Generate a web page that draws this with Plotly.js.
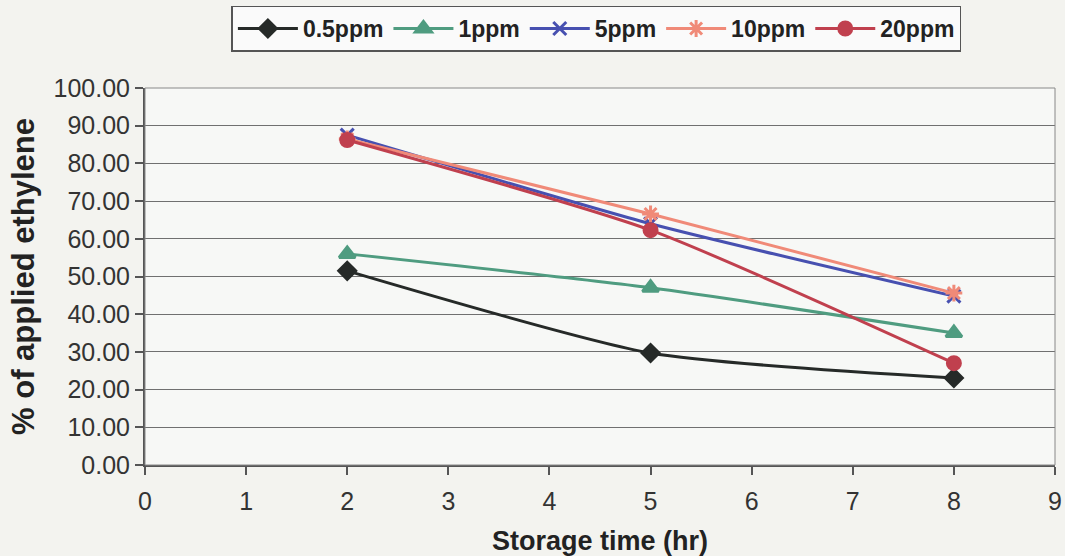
<!DOCTYPE html>
<html><head><meta charset="utf-8">
<script src="https://cdn.plot.ly/plotly-3.0.1.min.js"></script>
<style>body{margin:0;background:#f3f3ef;}#c{width:1065px;height:556px;}</style>
</head><body><div id="c"></div>
<script>
const hours = [2, 5, 8];
const seriesNames = ["0.5ppm", "1ppm", "5ppm", "10ppm", "20ppm"];
const v05 = [51.5, 29.7, 23.1];
const v1 = [56.0, 47.0, 35.0];
const v5 = [87.5, 64.0, 44.8];
const v10 = [86.5, 66.6, 45.6];
const v20 = [86.2, 62.3, 27.0];
const xTicks = [0,1,2,3,4,5,6,7,8,9];
const yTicks = [0,10,20,30,40,50,60,70,80,90,100];

const styles = [
  {color:"#262a28", symbol:"diamond", size:13},
  {color:"#4f9c80", symbol:"triangle-up", size:14},
  {color:"#4750b0", symbol:"x-thin-open", size:13},
  {color:"#f08a78", symbol:"asterisk-open", size:14},
  {color:"#c0404e", symbol:"circle", size:13}
];
const vals = [v05, v1, v5, v10, v20];
const traces = vals.map((v,i)=>({
  x: hours, y: v, name: seriesNames[i], type:"scatter", mode:"lines+markers",
  line:{color:styles[i].color, width:3, shape:"spline", smoothing:0.6},
  marker:{color:styles[i].color, symbol:styles[i].symbol, size:styles[i].size,
          line:{color:styles[i].color, width:3}}
}));
const layout = {
  width:1065, height:556,
  paper_bgcolor:"#f3f3ef", plot_bgcolor:"#f7f8f6",
  margin:{l:145, r:10, t:88, b:91, autoexpand:false},
  font:{family:"Liberation Sans, Arial, sans-serif", color:"#333"},
  showlegend:true,
  legend:{orientation:"h", x:0.56, xref:"container", xanchor:"center",
          y:0.99, yref:"container", yanchor:"top",
          bordercolor:"#555", borderwidth:1.5, bgcolor:"#fafafa",
          font:{size:23, color:"#222", family:"Liberation Sans, Arial, sans-serif", weight:"bold"},
          itemwidth:60, tracegroupgap:0},
  xaxis:{range:[0,9], tickvals:xTicks, ticktext:xTicks.map(String), ticks:"outside", ticklen:8,
         tickcolor:"#555", tickwidth:1.5, showgrid:false, zeroline:false, showline:true,
         linecolor:"#555", linewidth:2, ticklabelstandoff:5,
         tickfont:{size:25, color:"#333"},
         title:{text:"<b>Storage time (hr)</b>", font:{size:27, color:"#222"}, standoff:18}},
  yaxis:{range:[0,100], tickvals:yTicks, ticktext:yTicks.map(t=>t.toFixed(2)), ticks:"outside", ticklen:8,
         tickcolor:"#555", tickwidth:1.5, showgrid:true, gridcolor:"#707070", gridwidth:1.2,
         zeroline:false, showline:true, linecolor:"#555", linewidth:2, mirror:false,
         tickfont:{size:25, color:"#333"},
         title:{text:"<b>% of applied ethylene</b>", font:{size:31, color:"#222"}, standoff:10}},
  shapes:[{type:"rect", xref:"paper", yref:"paper", x0:0, x1:1, y0:0, y1:1,
           line:{color:"#888", width:1}}]
};
Plotly.newPlot("c", traces, layout, {displayModeBar:false});
</script></body></html>
